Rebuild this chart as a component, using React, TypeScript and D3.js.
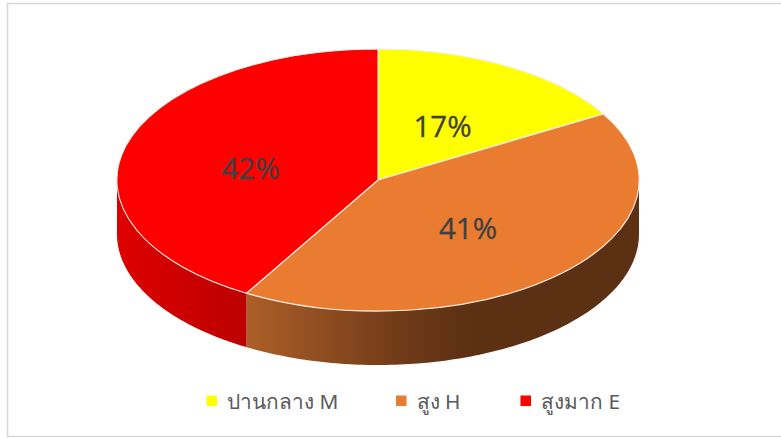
import React from "react";
import * as d3 from "d3";

const categories = ["ปานกลาง M", "สูง H", "สูงมาก E"];
const values = [16.6, 41.8, 41.6];
const percentLabels = ["17%", "41%", "42%"];
const colors = ["#FFFF00", "#EA7C31", "#FF0000"];
const labelPositions = [[442.5, 125.5], [468, 227.5], [250.5, 167.5]];
const legendX = [206.5, 396, 520.5];

const W = 781, H = 438;
const cx = 378, cy = 180, rx = 261, ry = 131, depth = 54;

const pieGen = d3.pie<number>().sort(null).startAngle(0).endAngle(2 * Math.PI);
const arcs = pieGen(values);
const unitArc = d3.arc<any>().innerRadius(0).outerRadius(1);

const px = (a: number) => cx + rx * Math.sin(a);
const py = (a: number) => cy - ry * Math.cos(a);

function sidePath(a0: number, a1: number) {
  const from = Math.max(a0, Math.PI / 2);
  const to = Math.min(a1, (3 * Math.PI) / 2);
  if (to <= from) return "";
  const angles = d3.range(0, 121).map((i) => from + ((to - from) * i) / 120);
  const top = angles.map((a) => [px(a), py(a)] as [number, number]);
  const bottom = angles.map((a) => [px(a), py(a) + depth] as [number, number]).reverse();
  return d3.line()([...top, ...bottom]) + "Z";
}

const sideFills = [null, "url(#sideOrange)", "url(#sideRed)"];

export default function App() {
  return (
    <svg width={W} height={H} style={{ position: "absolute", left: 0, top: 0, background: "#fff" }}>
      <defs>
        <linearGradient id="sideOrange" gradientUnits="userSpaceOnUse" x1={247} x2={470} y1={0} y2={0}>
          <stop offset="0" stopColor="#AC5F28" />
          <stop offset="0.7" stopColor="#703A18" />
          <stop offset="1" stopColor="#5C3013" />
        </linearGradient>
        <linearGradient id="sideRed" gradientUnits="userSpaceOnUse" x1={117} x2={247} y1={0} y2={0}>
          <stop offset="0" stopColor="#DE0000" />
          <stop offset="1" stopColor="#BB0000" />
        </linearGradient>
      </defs>
      <rect x={7.5} y={3.5} width={W + 10} height={433} fill="#fff" stroke="#D9D9D9" strokeWidth={1.6} />
      <g>
        {arcs.map((d, i) =>
          sideFills[i] ? (
            <path key={i} d={sidePath(d.startAngle, d.endAngle)} fill={sideFills[i] as string} />
          ) : null
        )}
      </g>
      <g transform={`translate(${cx},${cy}) scale(${rx},${ry})`}>
        {arcs.map((d, i) => (
          <path
            key={i}
            d={unitArc(d) as string}
            fill={colors[i]}
            stroke="#F4F0E8"
            strokeWidth={1.1}
            vectorEffect="non-scaling-stroke"
          />
        ))}
      </g>
      {percentLabels.map((t, i) => (
        <text
          key={t}
          x={labelPositions[i][0]}
          y={labelPositions[i][1]}
          textAnchor="middle"
          dominantBaseline="central"
          fontFamily="'Open Sans', 'Noto Sans', sans-serif"
          fontSize={29.5}
          fill="#404040"
          stroke="#404040"
          strokeWidth={0.3}
        >
          {t}
        </text>
      ))}
      {categories.map((c, i) => (
        <g key={c}>
          <rect x={legendX[i]} y={395.5} width={10.5} height={10.5} fill={colors[i]} />
          <text
            x={legendX[i] + 20.5}
            y={409}
            fontFamily="'Noto Sans', 'Noto Sans CJK SC', 'DejaVu Sans', sans-serif"
            fontSize={20.8}
            fill="#595959"
          >
            {c}
          </text>
        </g>
      ))}
    </svg>
  );
}
